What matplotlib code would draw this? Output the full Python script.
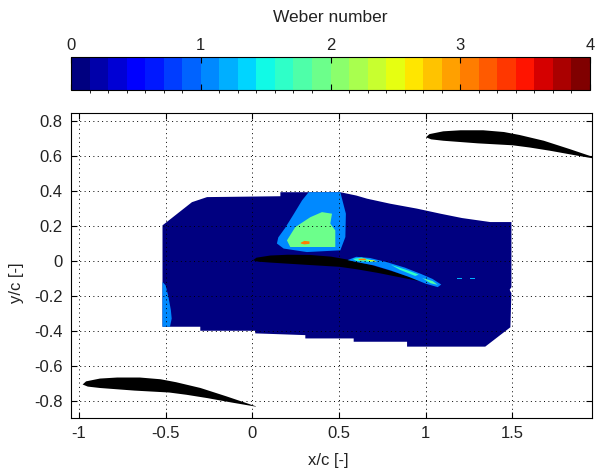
import numpy as np
import matplotlib
matplotlib.use("Agg")
import matplotlib.pyplot as plt
from matplotlib.colors import BoundaryNorm
from matplotlib.cm import ScalarMappable

plt.rcParams['font.family'] = ['Liberation Sans', 'DejaVu Sans']
plt.rcParams['axes.unicode_minus'] = False

# colour scale
n_levels = 28
we_min, we_max = 0, 4
cbar_ticks = [0, 1, 2, 3, 4]
x_ticks = [-1, -0.5, 0, 0.5, 1, 1.5]
x_ticklabels = ['-1', '-0.5', '0', '0.5', '1', '1.5']
y_ticks = [-0.8, -0.6, -0.4, -0.2, 0, 0.2, 0.4, 0.6, 0.8]
y_ticklabels = ['-0.8', '-0.6', '-0.4', '-0.2', '0', '0.2', '0.4', '0.6', '0.8']

# blade profile relative to leading edge (x/c, y/c)
blade_upper_x = [0, 0.02, 0.1, 0.2, 0.33, 0.45, 0.54, 0.68, 0.83, 1.0]
blade_upper_y = [0, 0.018, 0.034, 0.040, 0.040, 0.030, 0.013, -0.020, -0.068, -0.125]
blade_lower_x = [1.0, 0.87, 0.72, 0.6, 0.5, 0.3, 0.1, 0.03, 0]
blade_lower_y = [-0.127, -0.105, -0.078, -0.059, -0.046, -0.035, -0.020, -0.012, 0]
# leading edges of the three blades in the cascade (middle one partly hidden by the field)
blade_le_x = [-0.979, 0.004, 1.002]
blade_le_y = [-0.708, 0.004, 0.709]
blade_visible_thickness = [1.0, 0.75, 1.0]

# measured Weber number regions: outline + level
domain_x = [-0.518, -0.348, -0.261, 0.162, 0.162, 0.508, 0.60, 0.662, 0.796, 0.950, 1.085, 1.21, 1.373,
            1.495, 1.495, 1.485, 1.495, 1.489, 1.344, 0.893, 0.893, 0.585, 0.585, 0.306, 0.306, 0.017,
            0.017, -0.30, -0.30, -0.518]
domain_y = [0.204, 0.337, 0.366, 0.371, 0.394, 0.394, 0.375, 0.357, 0.328, 0.300, 0.271, 0.246, 0.223,
            0.223, -0.150, -0.165, -0.185, -0.38, -0.491, -0.491, -0.463, -0.463, -0.444, -0.444, -0.425,
            -0.415, -0.40, -0.40, -0.377, -0.377]
domain_we = 0.05

wake_x = [0.325, 0.287, 0.240, 0.190, 0.150, 0.142, 0.181, 0.315, 0.508, 0.537, 0.540, 0.508]
wake_y = [0.394, 0.347, 0.270, 0.190, 0.135, 0.100, 0.071, 0.051, 0.061, 0.137, 0.271, 0.394]
wake_we = 1.0

core_x = [0.402, 0.335, 0.248, 0.200, 0.219, 0.479, 0.479, 0.450, 0.460]
core_y = [0.280, 0.251, 0.194, 0.118, 0.080, 0.080, 0.175, 0.214, 0.271]
core_we = 1.9

spot_x = [0.28, 0.30, 0.33, 0.33, 0.30, 0.28]
spot_y = [0.105, 0.115, 0.112, 0.098, 0.095, 0.100]
spot_we = 3.1

edge_x = [-0.518, -0.50, -0.485, -0.47, -0.465, -0.475, -0.518]
edge_y = [-0.12, -0.14, -0.20, -0.28, -0.33, -0.377, -0.377]
edge_we = 1.0

film_x = [0.55, 0.60, 0.68, 0.78, 0.88, 0.97, 1.04, 1.09, 1.07, 1.00, 0.90, 0.80, 0.70, 0.60]
film_y = [0.005, 0.024, 0.017, -0.008, -0.038, -0.073, -0.103, -0.135, -0.150, -0.130, -0.090, -0.055, -0.025, -0.006]
film_we = 1.0

film_mid_x = [[0.58, 0.63, 0.70, 0.68, 0.60], [0.80, 0.90, 0.96, 0.94, 0.85], [0.98, 1.04, 1.07, 1.03]]
film_mid_y = [[0.012, 0.020, 0.002, -0.006, 0.0], [-0.022, -0.055, -0.078, -0.086, -0.050], [-0.098, -0.115, -0.137, -0.128]]
film_mid_we = [1.7, 1.6, 1.8]

film_hot_x = [[0.66, 0.70, 0.72, 0.68], [0.61, 0.65, 0.66, 0.62]]
film_hot_y = [[0.006, 0.004, -0.004, -0.002], [0.012, 0.014, 0.004, 0.004]]
film_hot_we = [2.5, 3.1]

specks_x = [[1.18, 1.21, 1.21, 1.18], [1.255, 1.285, 1.285, 1.255]]
specks_y = [[-0.097, -0.097, -0.105, -0.105], [-0.097, -0.097, -0.105, -0.105]]
specks_we = [1.2, 1.2]

cmap = plt.get_cmap('jet', n_levels)
norm = BoundaryNorm(np.linspace(we_min, we_max, n_levels + 1), n_levels)

fig = plt.figure(figsize=(5.96, 4.70), dpi=100)
ax = fig.add_axes([71 / 596, 1 - 418 / 470, 521 / 596, 305 / 470])
cax = fig.add_axes([71 / 596, 1 - 90 / 470, 519 / 596, 33 / 470])

def region(xs, ys, we, z=1):
    ax.fill(xs, ys, color=cmap(norm(we)), lw=0, zorder=z)

region(domain_x, domain_y, domain_we)
region(wake_x, wake_y, wake_we)
region(core_x, core_y, core_we)
region(spot_x, spot_y, spot_we)
region(edge_x, edge_y, edge_we)
for xs, ys, we in zip(specks_x, specks_y, specks_we):
    region(xs, ys, we)

# blades
for lx, ly, th in zip(blade_le_x, blade_le_y, blade_visible_thickness):
    ux = np.array(blade_upper_x)
    lwx = np.array(blade_lower_x)
    # camber line approx: mean of surfaces, thickness scaled about it
    uy = np.array(blade_upper_y)
    ly_ = np.array(blade_lower_y)
    mid_u = 0.5 * (uy + np.interp(ux, lwx[::-1], ly_[::-1]))
    mid_l = 0.5 * (ly_ + np.interp(lwx, ux, uy))
    uy = mid_u + th * (uy - mid_u)
    ly_ = mid_l + th * (ly_ - mid_l)
    bx = np.r_[ux, lwx] + lx
    by = np.r_[uy, ly_] + ly
    ax.fill(bx, by, color='k', lw=0, zorder=1.5)

# liquid film on suction side, drawn over the blade
region(film_x, film_y, film_we, 1.6)
for xs, ys, we in zip(film_mid_x, film_mid_y, film_mid_we):
    region(xs, ys, we, 1.7)
for xs, ys, we in zip(film_hot_x, film_hot_y, film_hot_we):
    region(xs, ys, we, 1.8)

ax.set_xlim(-1.046, 1.96)
ax.set_ylim(-0.90, 0.848)
ax.set_xticks(x_ticks)
ax.set_xticklabels(x_ticklabels)
ax.set_yticks(y_ticks)
ax.set_yticklabels(y_ticklabels)
ax.grid(True, color='k', linestyle=(0, (1, 3.5)), linewidth=0.7)
ax.set_axisbelow(False)
ax.tick_params(direction='in', top=True, right=True, length=4, width=0.8,
               labelsize=12, labelcolor='#222222', pad=6)
for s in ax.spines.values():
    s.set_linewidth(0.8)

fig.text(328 / 596, 1 - 460 / 470, 'x/c [-]', ha='center', va='center', fontsize=12, color='#222222')
fig.text(17 / 596, 1 - 283 / 470, 'y/c [-]', ha='center', va='center', rotation=90, fontsize=12, color='#222222')

cb = fig.colorbar(ScalarMappable(norm=norm, cmap=cmap), cax=cax, orientation='horizontal', ticks=cbar_ticks)
cb.outline.set_linewidth(0.8)
cax.tick_params(direction='in', top=True, bottom=True, labeltop=True, labelbottom=False,
                length=4, width=0.8, labelsize=12, labelcolor='#222222', pad=3)
cax.set_xticklabels([str(t) for t in cbar_ticks])
fig.text(330 / 596, 1 - 17 / 470, 'Weber number', ha='center', va='center', fontsize=12.5, color='#222222')

fig.savefig('out.png', dpi=100)
